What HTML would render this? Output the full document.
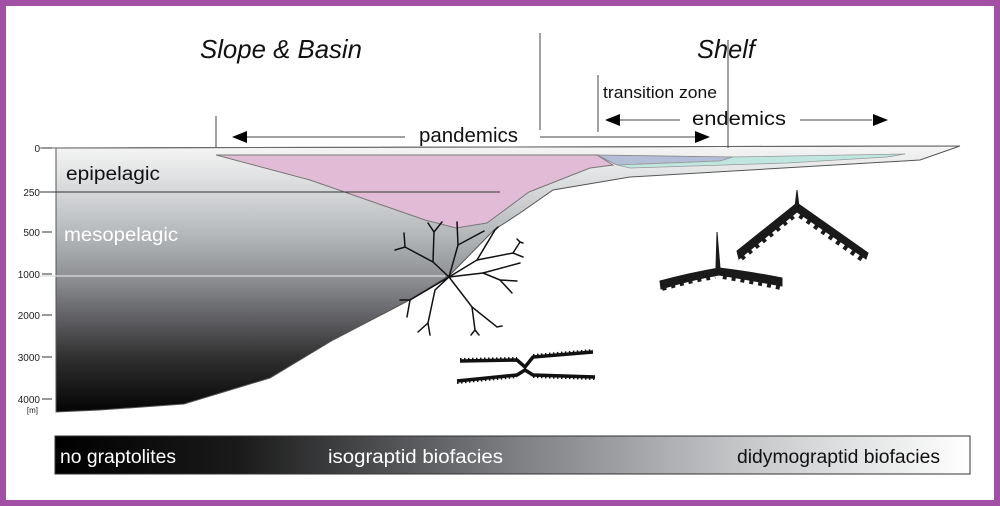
<!DOCTYPE html>
<html><head><meta charset="utf-8"><style>
html,body{margin:0;padding:0;background:#fff;}
svg{display:block;font-family:"Liberation Sans",sans-serif;}
</style></head><body>
<svg width="1000" height="506" viewBox="0 0 1000 506" xmlns="http://www.w3.org/2000/svg">
<defs>
<linearGradient id="g" x1="0" y1="148" x2="0" y2="412" gradientUnits="userSpaceOnUse">
<stop offset="0" stop-color="#f4f4f4"/>
<stop offset="0.17" stop-color="#d4d6d8"/>
<stop offset="0.33" stop-color="#b4b7ba"/>
<stop offset="0.5" stop-color="#8c8e92"/>
<stop offset="0.65" stop-color="#5e5e62"/>
<stop offset="0.8" stop-color="#2e2e2e"/>
<stop offset="1" stop-color="#050505"/>
</linearGradient>
<linearGradient id="b" x1="0" x2="1" y1="0" y2="0">
<stop offset="0" stop-color="#000"/>
<stop offset="0.2" stop-color="#1a1a1a"/>
<stop offset="0.5" stop-color="#7c7e82"/>
<stop offset="0.75" stop-color="#c4c6c8"/>
<stop offset="1" stop-color="#fff"/>
</linearGradient>
</defs>
<rect x="3" y="3" width="994" height="500" fill="#fff" stroke="#a24fa6" stroke-width="6"/>

<polygon points="56,148 960,146 920,160 630,177 553,190 520,213 494,230 450,275 406,302 333,340 270,378 184,404 100,410 56,412" fill="url(#g)" stroke="#555" stroke-width="1"/>
<line x1="40" y1="148" x2="960" y2="146" stroke="#666" stroke-width="1"/>
<polygon points="216,155 597,155 613,165 590,168 529,192 487,223 456,228 425,220 310,180" fill="#e2bcd6" stroke="#777" stroke-width="1"/>
<polygon points="597,155 733,157 720,161 617,165" fill="#b4bed6" stroke="#888" stroke-width="0.8"/>
<polygon points="617,165 720,161 733,157 905,154 887,157 787,163 630,168" fill="#bfe6df" stroke="#999" stroke-width="0.8"/>
<line x1="40" y1="192" x2="500" y2="192" stroke="#333" stroke-width="1"/>
<line x1="40" y1="276" x2="445" y2="276" stroke="#ddd" stroke-width="1.2"/>
<g font-size="10" fill="#222" text-anchor="end">
<text x="40" y="152">0</text><line x1="42" y1="148" x2="52" y2="148" stroke="#333"/>
<text x="40" y="196">250</text><line x1="42" y1="192" x2="52" y2="192" stroke="#333"/>
<text x="40" y="236">500</text><line x1="42" y1="232" x2="52" y2="232" stroke="#333"/>
<text x="40" y="278">1000</text><line x1="42" y1="274" x2="52" y2="274" stroke="#333"/>
<text x="40" y="319">2000</text><line x1="42" y1="315" x2="52" y2="315" stroke="#333"/>
<text x="40" y="361">3000</text><line x1="42" y1="357" x2="52" y2="357" stroke="#333"/>
<text x="40" y="403">4000</text><line x1="42" y1="399" x2="52" y2="399" stroke="#333"/>
<text x="38" y="413" font-size="8">[m]</text>
</g>
<text x="66" y="180" font-size="19" fill="#111" textLength="94" lengthAdjust="spacingAndGlyphs">epipelagic</text>
<text x="64" y="241" font-size="19" fill="#fff" textLength="114" lengthAdjust="spacingAndGlyphs">mesopelagic</text>

<text x="200" y="58" font-size="26" font-style="italic" fill="#111" textLength="162" lengthAdjust="spacingAndGlyphs">Slope &amp; Basin</text>
<text x="697" y="58" font-size="26" font-style="italic" fill="#111" textLength="58" lengthAdjust="spacingAndGlyphs">Shelf</text>
<g stroke="#444" stroke-width="1">
<line x1="540" y1="33" x2="540" y2="130"/>
<line x1="728" y1="40" x2="728" y2="148"/>
<line x1="598" y1="75" x2="598" y2="132"/>
<line x1="216" y1="116" x2="216" y2="147"/>
<line x1="245" y1="137" x2="405" y2="137"/>
<line x1="540" y1="137" x2="695" y2="137"/>
<line x1="618" y1="120" x2="680" y2="120"/>
<line x1="800" y1="120" x2="872" y2="120"/>
</g>
<polygon points="232,137 247,131 247,143" fill="#000"/>
<polygon points="710,137 695,131 695,143" fill="#000"/>
<polygon points="605,120 620,114 620,126" fill="#000"/>
<polygon points="888,120 873,114 873,126" fill="#000"/>
<text x="419" y="142" font-size="20" fill="#111" textLength="99" lengthAdjust="spacingAndGlyphs">pandemics</text>
<text x="603" y="98" font-size="17" fill="#111" textLength="114" lengthAdjust="spacingAndGlyphs">transition zone</text>
<text x="692" y="125" font-size="19" fill="#111" textLength="94" lengthAdjust="spacingAndGlyphs">endemics</text>

<g stroke="#111" stroke-width="1.5" fill="none" stroke-linecap="round">
<polyline points="449,277 433,262 405,247 395,250"/><line x1="405" y1="247" x2="404" y2="233"/>
<polyline points="433,262 434,232 428,223"/><line x1="434" y1="232" x2="442" y2="222"/>
<polyline points="449,277 458,245 457,222"/><line x1="458" y1="245" x2="484" y2="231"/>
<polyline points="449,277 477,260 495,230 498,227"/><polyline points="477,260 513,253 523,257"/><polyline points="513,253 520,242 517,239"/><line x1="520" y1="242" x2="523" y2="243"/>
<polyline points="449,277 483,273 520,263"/><polyline points="483,273 500,280 517,281"/><line x1="500" y1="280" x2="512" y2="293"/>
<polyline points="449,277 472,307 497,327 502,326"/><polyline points="472,307 475,330 471,335"/><line x1="475" y1="330" x2="479" y2="335"/>
<polyline points="449,277 435,290 428,323 430,335"/><line x1="428" y1="323" x2="418" y2="332"/>
<polyline points="449,277 410,300 400,300"/><line x1="410" y1="300" x2="407" y2="317"/>
</g>
<g stroke="#111" fill="none">
<polyline points="460,361 517,360 525,367 533,357 593,352" stroke-width="3.5"/>
<polyline points="457,381 517,375 525,370 533,375 595,377" stroke-width="3.5"/>
<polyline points="460,359 517,358" stroke-width="2" stroke-dasharray="1.5 2.5"/>
<polyline points="533,355 593,350" stroke-width="2" stroke-dasharray="1.5 2.5"/>
<polyline points="457,383 517,377" stroke-width="2" stroke-dasharray="1.5 2.5"/>
<polyline points="533,377 595,379" stroke-width="2" stroke-dasharray="1.5 2.5"/>
</g>
<g fill="#1a1a1a" stroke="#1a1a1a">
<polygon points="717,232 720,268 716,268" stroke-width="1"/>
<path d="M660,281 Q690,273 719,268 Q752,272 782,278 L782,286 Q750,280 719,275 Q690,280 661,289 Z" stroke-width="1"/>
<path d="M662,288 Q690,280 715,276" fill="none" stroke-width="6" stroke-dasharray="4 5"/>
<path d="M723,276 Q752,281 781,287" fill="none" stroke-width="6" stroke-dasharray="4 5"/>
<polygon points="797,190 799,207 795,207" stroke-width="1"/>
<polygon points="737,251 797,203 868,253 866,259 797,212 739,259" stroke-width="1"/>
<line x1="741" y1="258" x2="794" y2="215" stroke-width="6" stroke-dasharray="4 5"/>
<line x1="800" y1="215" x2="864" y2="260" stroke-width="6" stroke-dasharray="4 5"/>
</g>

<rect x="55" y="436" width="915" height="38" fill="url(#b)" stroke="#333" stroke-width="1"/>
<text x="60" y="463" font-size="19" fill="#fff" textLength="116" lengthAdjust="spacingAndGlyphs">no graptolites</text>
<text x="328" y="463" font-size="19" fill="#fff" textLength="175" lengthAdjust="spacingAndGlyphs">isograptid biofacies</text>
<text x="737" y="463" font-size="19" fill="#111" textLength="203" lengthAdjust="spacingAndGlyphs">didymograptid biofacies</text>
</svg>
</body></html>
